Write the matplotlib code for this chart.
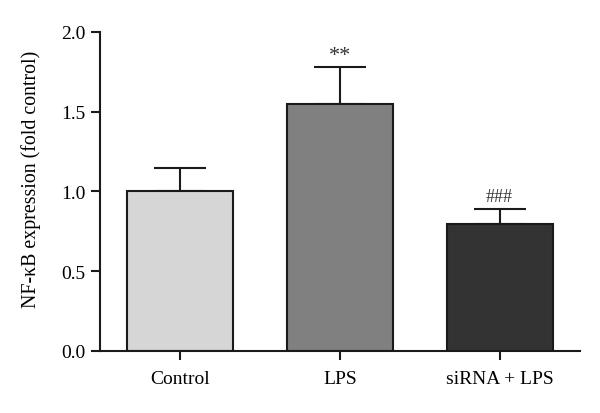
import matplotlib
matplotlib.use("Agg")
import matplotlib.pyplot as plt

groups = ["Control", "LPS", "siRNA + LPS"]
means = [1.0, 1.55, 0.795]
errs = [0.145, 0.23, 0.095]
marks = ["", "**", "###"]
colors = ["#d6d6d6", "#808080", "#333333"]

plt.rcParams["font.family"] = ["Liberation Serif", "DejaVu Serif"]

fig = plt.figure(figsize=(6, 4.14), dpi=100)
ax = fig.add_axes([0.1667, 0.1498, 0.7993, 0.7705])

pos = range(len(groups))
ax.bar(pos, means, width=0.665, color=colors, edgecolor="#1a1a1a", linewidth=1.5, zorder=2)
ax.errorbar(pos, means, yerr=[[0] * len(errs), errs], fmt="none", ecolor="#1a1a1a",
            elinewidth=1.5, capsize=19, capthick=1.5, zorder=1)

for x, m, e, s in zip(pos, means, errs, marks):
    if s == "**":
        ax.text(x, m + e + 0.01, s, ha="center", va="bottom", fontsize=16, color="#333333")
    elif s:
        ax.text(x, m + e + 0.025, s, ha="center", va="bottom", fontsize=13, color="#333333")

ax.set_xlim(-0.5, 2.5)
ax.set_ylim(0, 2.0)
ax.set_yticks([0, 0.5, 1.0, 1.5, 2.0])
ax.set_yticklabels(["0.0", "0.5", "1.0", "1.5", "2.0"])
ax.set_xticks(list(pos))
ax.set_xticklabels(groups)
ax.set_ylabel("NF-κB expression (fold control)", fontsize=14.3)
ax.yaxis.set_label_coords(-0.124, 0.542)

for side in ["top", "right"]:
    ax.spines[side].set_visible(False)
for side in ["left", "bottom"]:
    ax.spines[side].set_linewidth(1.5)
    ax.spines[side].set_color("#1a1a1a")
ax.tick_params(axis="both", width=1.5, length=6.5, color="#1a1a1a", labelsize=14)
ax.tick_params(axis="y", pad=4)
ax.tick_params(axis="x", pad=7)

fig.savefig("out.png", dpi=100)
